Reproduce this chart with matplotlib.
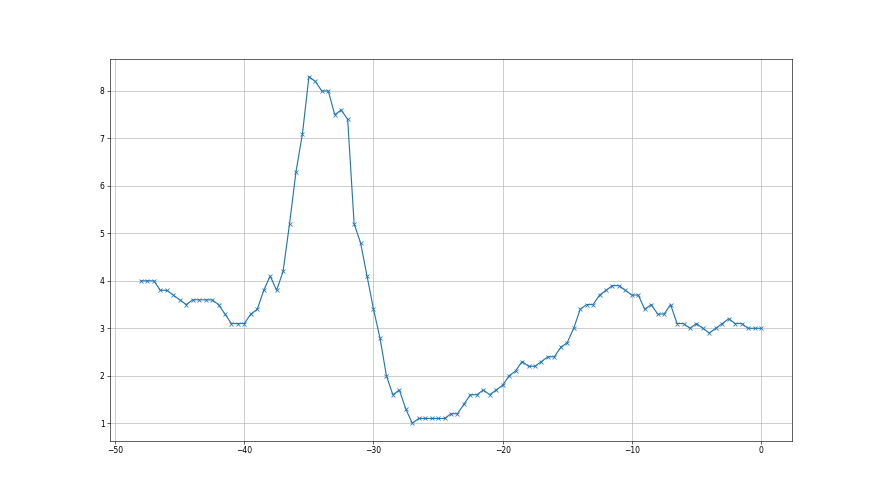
import numpy as np
import matplotlib
matplotlib.use("Agg")
import matplotlib.pyplot as plt

# time offsets, -48 .. 0 in half steps
times = np.arange(-48, 0.5, 0.5)

# values, split in three stretches
values_start = [4.0, 4.0, 4.0, 3.8, 3.8, 3.7, 3.6, 3.5, 3.6, 3.6, 3.6, 3.6, 3.5, 3.3, 3.1, 3.1, 3.1,
                3.3, 3.4, 3.8, 4.1, 3.8, 4.2, 5.2, 6.3, 7.1, 8.3, 8.2, 8.0, 8.0, 7.5, 7.6, 7.4, 5.2]
values_mid = [4.8, 4.1, 3.4, 2.8, 2.0, 1.6, 1.7, 1.3, 1.0, 1.1, 1.1, 1.1, 1.1, 1.1, 1.2, 1.2, 1.4,
              1.6, 1.6, 1.7, 1.6, 1.7, 1.8, 2.0, 2.1, 2.3, 2.2, 2.2, 2.3]
values_end = [2.4, 2.4, 2.6, 2.7, 3.0, 3.4, 3.5, 3.5, 3.7, 3.8, 3.9, 3.9, 3.8, 3.7, 3.7, 3.4, 3.5,
              3.3, 3.3, 3.5, 3.1, 3.1, 3.0, 3.1, 3.0, 2.9, 3.0, 3.1, 3.2, 3.1, 3.1, 3.0, 3.0, 3.0]

values = values_start + values_mid + values_end

fig, ax = plt.subplots(figsize=(16, 9), dpi=55)
ax.plot(times, values, marker='x')
ax.grid(True)

plt.savefig("out.png")
